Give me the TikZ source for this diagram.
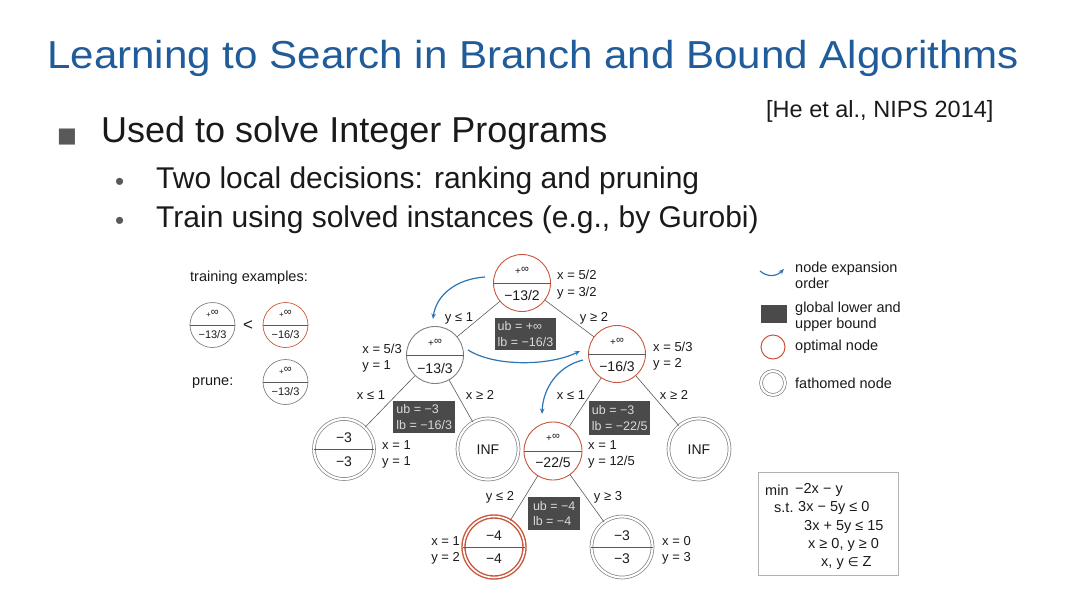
\documentclass[tikz,border=0pt]{standalone}
\usepackage{fontspec}
\setmainfont{Liberation Sans}
\newfontfamily\djv{DejaVu Sans}
\newfontfamily\ttlfont[FakeStretch=1.08]{Liberation Sans}
\usetikzlibrary{arrows.meta}
\definecolor{ttl}{HTML}{1F5C99}
\definecolor{opt}{HTML}{C9553A}
\definecolor{expc}{HTML}{2E75B6}
\definecolor{bnd}{HTML}{4A4A4A}
\definecolor{edg}{HTML}{5A5A5A}
\definecolor{txt}{HTML}{1A1A1A}
\definecolor{bul}{HTML}{595959}
\newcommand{\pinf}{+\raisebox{1.5pt}{\fontsize{11}{12}\selectfont ∞}}
\begin{document}
\begin{tikzpicture}[x=1pt,y=-1pt,
  bbn/.style={circle, draw=#1, line width=0.9pt, minimum size=57pt, inner sep=0pt},
  fath/.style={circle, draw=gray, double=white, double distance=2.2pt, line width=0.7pt, minimum size=60pt, inner sep=0pt},
  small/.style={font=\fontsize{13}{15}\selectfont, text=txt, inner sep=0pt},
  ntop/.style={font=\fontsize{10}{12}\selectfont, text=txt, inner sep=0pt},
  nbot/.style={font=\fontsize{14}{16}\selectfont, text=txt, inner sep=0pt},
  lbl/.style={font=\fontsize{13}{16}\selectfont, text=txt, align=left, inner sep=0pt, anchor=west},
  leg/.style={font=\fontsize{14.5}{15.5}\selectfont, text=txt, align=left, inner sep=0pt, anchor=west},
  prb/.style={font=\fontsize{14.5}{16}\selectfont, text=txt, inner sep=0pt, anchor=west},
  boundbox/.style={fill=bnd, text=white!85!black, font=\fontsize{12.5}{15.5}\selectfont, align=left, inner sep=2.5pt, anchor=north west},
  edge/.style={draw=edg, line width=0.6pt},
  split/.style={draw=edg, line width=0.6pt},
  expand/.style={draw=expc, line width=1.2pt, -{Stealth[length=5.5pt,width=4.5pt]}}
  ]
\useasboundingbox (0,0) rectangle (1080,608);
% title and bullets
\node[anchor=base west, text=ttl, font=\ttlfont\fontsize{39}{44}\selectfont, inner sep=0pt] (title) at (47,68) {Learning to Search in Branch and Bound Algorithms};
\node[anchor=base west, text=txt, font=\fontsize{23.5}{26}\selectfont, inner sep=0pt] (ref) at (766,117) {[He et al., NIPS 2014]};
\node[anchor=base west, text=bul, font=\djv\fontsize{21}{24}\selectfont, inner sep=0pt] (b1) at (57,142) {■};
\node[anchor=base west, text=txt, font=\fontsize{36}{40}\selectfont, inner sep=0pt] (t1) at (101,142) {Used to solve Integer Programs};
\node[anchor=base west, text=bul, font=\fontsize{26}{28}\selectfont, inner sep=0pt] (b2) at (115,190) {•};
\node[anchor=base west, text=txt, font=\fontsize{30}{34}\selectfont, inner sep=0pt] (t2) at (156,188) {Two local decisions: ranking and pruning};
\node[anchor=base west, text=bul, font=\fontsize{26}{28}\selectfont, inner sep=0pt] (b3) at (115,229) {•};
\node[anchor=base west, text=txt, font=\fontsize{30}{34}\selectfont, inner sep=0pt] (t3) at (156,227) {Train using solved instances (e.g., by Gurobi)};

% left: training examples
\node[leg] (trn) at (190,278) {training examples:};
\node[bbn=gray, minimum size=45pt, line width=0.7pt] (e1) at (212.5,325) {};
\draw[split] (e1.180) -- (e1.0);
\node[ntop, font=\fontsize{8}{10}\selectfont] (e1t) at (212.5,314) {\pinf};
\node[nbot, font=\fontsize{11}{12}\selectfont] (e1b) at (212.5,335) {−13/3};
\node[small, font=\fontsize{17}{18}\selectfont] (lt) at (248,326) {<};
\node[bbn=opt, minimum size=45pt, line width=0.7pt] (e2) at (285.5,325) {};
\draw[split] (e2.180) -- (e2.0);
\node[ntop, font=\fontsize{8}{10}\selectfont] (e2t) at (285.5,314) {\pinf};
\node[nbot, font=\fontsize{11}{12}\selectfont] (e2b) at (285.5,335) {−16/3};
\node[leg] (prn) at (192,383) {prune:};
\node[bbn=gray, minimum size=45pt, line width=0.7pt] (e3) at (285.5,382) {};
\draw[split] (e3.180) -- (e3.0);
\node[ntop, font=\fontsize{8}{10}\selectfont] (e3t) at (285.5,371) {\pinf};
\node[nbot, font=\fontsize{11}{12}\selectfont] (e3b) at (285.5,392) {−13/3};

% tree nodes
\node[bbn=opt] (root) at (522,283) {};
\node[bbn=gray] (A) at (435,355) {};
\node[bbn=opt] (B) at (617,354) {};
\node[fath] (LL) at (344,449) {};
\node[fath, minimum size=61pt] (LR) at (488,449) {};
\node[bbn=opt, minimum size=58pt] (C) at (553,451) {};
\node[fath, minimum size=61pt] (RR) at (699,449) {};
\node[circle, draw=opt, double=white, double distance=1.6pt, line width=1.4pt, minimum size=61pt, inner sep=0pt] (CL) at (494,547) {};
\node[fath, minimum size=61pt] (CR) at (622,547) {};

% splits and texts in nodes
\foreach \n in {root,A,B,LL,C,CL,CR} {\draw[split] (\n.180) -- (\n.0);}
\node[ntop] (roott) at (522,271) {\pinf};
\node[nbot] (rootb) at (522,295) {−13/2};
\node[ntop] (At) at (435,343) {\pinf};
\node[nbot] (Ab) at (435,368) {−13/3};
\node[ntop] (Bt) at (617,342) {\pinf};
\node[nbot] (Bb) at (617,366) {−16/3};
\node[nbot] (LLt) at (344,438) {−3};
\node[nbot] (LLb) at (344,462) {−3};
\node[nbot] (LRt) at (488,450) {INF};
\node[ntop] (Ct) at (553,438) {\pinf};
\node[nbot] (Cb) at (553,462) {−22/5};
\node[nbot] (RRt) at (699,450) {INF};
\node[nbot] (CLt) at (494,536) {−4};
\node[nbot] (CLb) at (494,559) {−4};
\node[nbot] (CRt) at (622,536) {−3};
\node[nbot] (CRb) at (622,559) {−3};

% edges
\draw[edge] (root) -- (A);
\draw[edge] (root) -- (B);
\draw[edge] (A) -- (LL);
\draw[edge] (A) -- (LR);
\draw[edge] (B) -- (C);
\draw[edge] (B) -- (RR);
\draw[edge] (C) -- (CL);
\draw[edge] (C) -- (CR);

% edge labels
\node[small] (l1) at (459,318) {y ≤ 1};
\node[small] (l2) at (594,318) {y ≥ 2};
\node[small] (l3) at (371,395) {x ≤ 1};
\node[small] (l4) at (480,395) {x ≥ 2};
\node[small] (l5) at (571,395) {x ≤ 1};
\node[small] (l6) at (674,395) {x ≥ 2};
\node[small] (l7) at (500,497) {y ≤ 2};
\node[small] (l8) at (608,497) {y ≥ 3};

% solution labels
\node[lbl, font=\fontsize{13}{17}\selectfont] (sr) at (557,284.5) {x = 5/2\\y = 3/2};
\node[lbl, anchor=east] (sA) at (402,358.5) {x = 5/3\\y = 1};
\node[lbl] (sB) at (653,356.5) {x = 5/3\\y = 2};
\node[lbl] (sLL) at (382,454.5) {x = 1\\y = 1};
\node[lbl] (sC) at (588,454.5) {x = 1\\y = 12/5};
\node[lbl, anchor=east] (sCL) at (460,550) {x = 1\\y = 2};
\node[lbl] (sCR) at (662,550) {x = 0\\y = 3};

% bound boxes
\node[boundbox, minimum width=60pt, minimum height=32pt] (bx1) at (495,318) {ub = +∞\\lb = −16/3};
\node[boundbox, minimum width=62pt, minimum height=32pt] (bx2) at (393,401) {ub = −3\\lb = −16/3};
\node[boundbox, minimum width=61pt, minimum height=34pt] (bx3) at (589,401) {ub = −3\\lb = −22/5};
\node[boundbox, minimum width=52pt, minimum height=33pt] (bx4) at (528,497) {ub = −4\\lb = −4};

% expansion order arrows
\coordinate (x1s) at (485,277);
\coordinate (x1e) at (433,319);
\draw[expand] (x1s) .. controls (455,279) and (436,296) .. (x1e);
\coordinate (x2s) at (468,350);
\coordinate (x2e) at (580,351);
\draw[expand] (x2s) .. controls (495,367) and (550,366) .. (x2e);
\coordinate (x3s) at (583,360);
\coordinate (x3e) at (542,414);
\draw[expand] (x3s) .. controls (558,366) and (543,388) .. (x3e);

% legend
\coordinate (lg1s) at (760,271);
\coordinate (lg1e) at (784,269);
\draw[expand] (lg1s) .. controls (767,277) and (776,277) .. (lg1e);
\node[leg] (lgt1) at (795,275.5) {node expansion\\order};
\node[fill=bnd, minimum width=26pt, minimum height=18pt, inner sep=0pt] (lgsq) at (774,314) {};
\node[leg] (lgt2) at (795,316.5) {global lower and\\upper bound};
\node[bbn=opt, minimum size=24pt, line width=1pt] (lgc1) at (773,347) {};
\node[leg] (lgt3) at (795,347) {optimal node};
\node[fath, minimum size=24pt] (lgc2) at (773,383) {};
\node[leg] (lgt4) at (795,383) {fathomed node};

% problem box
\node[draw=gray!60, line width=0.7pt, minimum width=140pt, minimum height=103pt, anchor=north west, inner sep=0pt] (prob) at (758,472) {};
\node[prb] (p1a) at (765,490) {min};
\node[prb] (p1b) at (795,490) {−2x − y};
\node[prb] (p2a) at (774,508) {s.t.};
\node[prb] (p2b) at (798,508) {3x − 5y ≤ 0};
\node[prb] (p3) at (804,527) {3x + 5y ≤ 15};
\node[prb] (p4) at (808,545) {x ≥ 0, y ≥ 0};
\node[prb] (p5) at (821,563) {x, y {\djv\fontsize{12.5}{14}\selectfont ∈} Z};
\end{tikzpicture}
\end{document}
